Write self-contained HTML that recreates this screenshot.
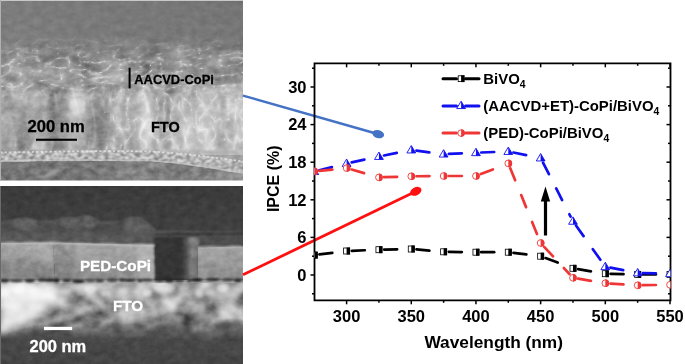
<!DOCTYPE html>
<html><head><meta charset="utf-8"><style>
html,body{margin:0;padding:0;background:#fff;width:685px;height:364px;overflow:hidden}
svg{display:block;will-change:transform;filter:blur(0.35px)}
text{font-family:"Liberation Sans",sans-serif}
</style></head><body>
<svg width="685" height="364" viewBox="0 0 685 364"><defs>
<clipPath id="clipTop"><rect x="0" y="0" width="243" height="180.5"/></clipPath>
<clipPath id="clipL"><rect x="0" y="0" width="105" height="181"/></clipPath><clipPath id="clipR"><rect x="105" y="0" width="138" height="181"/></clipPath>
<clipPath id="clipBot"><rect x="0" y="186" width="243" height="178"/></clipPath>
<linearGradient id="gTop" x1="0" y1="0" x2="0" y2="180" gradientUnits="userSpaceOnUse">
 <stop offset="0" stop-color="#7c7c7c"/>
 <stop offset="0.2" stop-color="#7d7d7d"/>
 <stop offset="0.25" stop-color="#868686"/>
 <stop offset="0.33" stop-color="#909090"/>
 <stop offset="0.42" stop-color="#9b9b9b"/>
 <stop offset="0.52" stop-color="#a2a2a2"/>
 <stop offset="0.85" stop-color="#a2a2a2"/>
 <stop offset="1" stop-color="#a0a0a0"/>
</linearGradient>
<linearGradient id="gTopH" x1="0" y1="0" x2="243" y2="0" gradientUnits="userSpaceOnUse">
 <stop offset="0" stop-color="#fff" stop-opacity="0"/>
 <stop offset="0.42" stop-color="#fff" stop-opacity="0.03"/>
 <stop offset="0.55" stop-color="#fff" stop-opacity="0.19"/>
 <stop offset="1" stop-color="#fff" stop-opacity="0.25"/>
</linearGradient>
<linearGradient id="gTopHv" x1="0" y1="78" x2="0" y2="155" gradientUnits="userSpaceOnUse">
 <stop offset="0" stop-color="#fff" stop-opacity="0"/>
 <stop offset="0.2" stop-color="#fff" stop-opacity="1"/>
 <stop offset="1" stop-color="#fff" stop-opacity="1"/>
</linearGradient>
<mask id="mTopH" maskUnits="userSpaceOnUse" x="0" y="0" width="243" height="181"><rect x="0" y="78" width="243" height="77" fill="url(#gTopHv)"/></mask>
<linearGradient id="gTopDark" x1="0" y1="0" x2="243" y2="0" gradientUnits="userSpaceOnUse">
 <stop offset="0" stop-color="#000" stop-opacity="0"/>
 <stop offset="1" stop-color="#000" stop-opacity="0.06"/>
</linearGradient>
<linearGradient id="gGlass" x1="0" y1="0" x2="243" y2="0" gradientUnits="userSpaceOnUse">
 <stop offset="0" stop-color="#727272"/>
 <stop offset="0.45" stop-color="#777"/>
 <stop offset="0.57" stop-color="#858585"/>
 <stop offset="0.64" stop-color="#7c7c7c"/>
 <stop offset="0.85" stop-color="#808080"/>
 <stop offset="1" stop-color="#969696"/>
</linearGradient>
<linearGradient id="mFlakeG" x1="0" y1="32" x2="0" y2="100" gradientUnits="userSpaceOnUse">
 <stop offset="0" stop-color="#fff" stop-opacity="0"/>
 <stop offset="0.15" stop-color="#fff" stop-opacity="0.25"/>
 <stop offset="0.45" stop-color="#fff" stop-opacity="1"/>
 <stop offset="0.8" stop-color="#fff" stop-opacity="1"/>
 <stop offset="1" stop-color="#fff" stop-opacity="0"/>
</linearGradient>
<mask id="mFlake" maskUnits="userSpaceOnUse" x="0" y="0" width="243" height="181"><rect x="0" y="32" width="243" height="68" fill="url(#mFlakeG)"/></mask>
<linearGradient id="mColG" x1="0" y1="80" x2="0" y2="152" gradientUnits="userSpaceOnUse">
 <stop offset="0" stop-color="#fff" stop-opacity="0"/>
 <stop offset="0.2" stop-color="#fff" stop-opacity="1"/>
 <stop offset="0.95" stop-color="#fff" stop-opacity="1"/>
 <stop offset="1" stop-color="#fff" stop-opacity="0"/>
</linearGradient>
<linearGradient id="mFineTG" x1="0" y1="0" x2="0" y2="181" gradientUnits="userSpaceOnUse">
 <stop offset="0" stop-color="#fff" stop-opacity="0.3"/>
 <stop offset="0.2" stop-color="#fff" stop-opacity="0.35"/>
 <stop offset="0.4" stop-color="#fff" stop-opacity="1"/>
 <stop offset="1" stop-color="#fff" stop-opacity="1"/>
</linearGradient>
<mask id="mFineT" maskUnits="userSpaceOnUse" x="0" y="0" width="243" height="181"><rect x="0" y="0" width="243" height="181" fill="url(#mFineTG)"/></mask>
<mask id="mCol" maskUnits="userSpaceOnUse" x="0" y="0" width="243" height="181"><rect x="0" y="80" width="243" height="72" fill="url(#mColG)"/></mask>

<linearGradient id="gBot" x1="0" y1="186" x2="0" y2="364" gradientUnits="userSpaceOnUse">
 <stop offset="0" stop-color="#3a3a3a"/>
 <stop offset="0.2" stop-color="#3f3f3f"/>
 <stop offset="1" stop-color="#3f3f3f"/>
</linearGradient>
<linearGradient id="gOver" x1="0" y1="218" x2="0" y2="245" gradientUnits="userSpaceOnUse">
 <stop offset="0" stop-color="#555"/>
 <stop offset="0.5" stop-color="#4a4a4a"/>
 <stop offset="1" stop-color="#505050"/>
</linearGradient>
<linearGradient id="gSlab" x1="0" y1="243" x2="0" y2="281" gradientUnits="userSpaceOnUse">
 <stop offset="0" stop-color="#a4a4a4"/>
 <stop offset="0.5" stop-color="#9a9a9a"/>
 <stop offset="1" stop-color="#8a8a8a"/>
</linearGradient>
<linearGradient id="gGap" x1="155" y1="0" x2="199" y2="0" gradientUnits="userSpaceOnUse">
 <stop offset="0" stop-color="#363636"/>
 <stop offset="0.6" stop-color="#333"/>
 <stop offset="0.74" stop-color="#5a5a5a"/>
 <stop offset="0.84" stop-color="#808080"/>
 <stop offset="1" stop-color="#767676"/>
</linearGradient>
<linearGradient id="gFTO" x1="0" y1="283" x2="0" y2="364" gradientUnits="userSpaceOnUse">
 <stop offset="0" stop-color="#b0b0b0"/>
 <stop offset="0.21" stop-color="#a2a2a2"/>
 <stop offset="0.395" stop-color="#8e8e8e"/>
 <stop offset="0.52" stop-color="#767676"/>
 <stop offset="0.617" stop-color="#5a5a5a"/>
 <stop offset="0.70" stop-color="#484848"/>
 <stop offset="1" stop-color="#444"/>
</linearGradient>
<linearGradient id="gFTOb" x1="60" y1="290" x2="20" y2="325" gradientUnits="userSpaceOnUse">
 <stop offset="0" stop-color="#fff" stop-opacity="0"/>
 <stop offset="0.25" stop-color="#fff" stop-opacity="0.75"/>
 <stop offset="1" stop-color="#fff" stop-opacity="0.8"/>
</linearGradient>
<linearGradient id="mGrainG" x1="0" y1="280" x2="0" y2="342" gradientUnits="userSpaceOnUse">
 <stop offset="0" stop-color="#fff" stop-opacity="1"/>
 <stop offset="0.7" stop-color="#fff" stop-opacity="0.8"/>
 <stop offset="1" stop-color="#fff" stop-opacity="0"/>
</linearGradient>
<mask id="mGrain" maskUnits="userSpaceOnUse" x="0" y="186" width="243" height="178"><rect x="0" y="283" width="243" height="59" fill="url(#mGrainG)"/></mask>

<filter id="tFine" filterUnits="userSpaceOnUse" x="-80" y="-80" width="420" height="540" color-interpolation-filters="sRGB">
 <feTurbulence type="fractalNoise" baseFrequency="0.12 0.16" numOctaves="3" seed="4"/>
 <feColorMatrix type="matrix" values="1 0 0 0 0  1 0 0 0 0  1 0 0 0 0  0 0 0 0 1"/><feGaussianBlur stdDeviation="0.5"/>
<feComposite in2="SourceAlpha" operator="in"/>
</filter>
<filter id="tFlake" filterUnits="userSpaceOnUse" x="-80" y="-80" width="420" height="540" color-interpolation-filters="sRGB">
 <feTurbulence type="turbulence" baseFrequency="0.05 0.1" numOctaves="3" seed="11"/>
 <feColorMatrix type="matrix" values="1 0 0 0 0  1 0 0 0 0  1 0 0 0 0  0 0 0 0 1"/><feComponentTransfer><feFuncR type="table" tableValues="0.9 0.64 0.52 0.47 0.45 0.44 0.43 0.42 0.41 0.4 0.4"/><feFuncG type="table" tableValues="0.9 0.64 0.52 0.47 0.45 0.44 0.43 0.42 0.41 0.4 0.4"/><feFuncB type="table" tableValues="0.9 0.64 0.52 0.47 0.45 0.44 0.43 0.42 0.41 0.4 0.4"/></feComponentTransfer><feGaussianBlur stdDeviation="0.75"/>
<feComposite in2="SourceAlpha" operator="in"/>
</filter>
<filter id="tCol" filterUnits="userSpaceOnUse" x="-80" y="-80" width="420" height="540" color-interpolation-filters="sRGB">
 <feTurbulence type="turbulence" baseFrequency="0.055 0.02" numOctaves="2" seed="5"/>
 <feColorMatrix type="matrix" values="1 0 0 0 0  1 0 0 0 0  1 0 0 0 0  0 0 0 0 1"/><feComponentTransfer><feFuncR type="table" tableValues="0.85 0.62 0.52 0.48 0.46 0.44 0.43 0.42 0.41 0.4 0.4"/><feFuncG type="table" tableValues="0.85 0.62 0.52 0.48 0.46 0.44 0.43 0.42 0.41 0.4 0.4"/><feFuncB type="table" tableValues="0.85 0.62 0.52 0.48 0.46 0.44 0.43 0.42 0.41 0.4 0.4"/></feComponentTransfer><feGaussianBlur stdDeviation="0.55"/>
<feComposite in2="SourceAlpha" operator="in"/>
</filter>
<filter id="tCol2" filterUnits="userSpaceOnUse" x="-80" y="-80" width="420" height="540" color-interpolation-filters="sRGB">
 <feTurbulence type="turbulence" baseFrequency="0.07 0.05" numOctaves="2" seed="21"/>
 <feColorMatrix type="matrix" values="1 0 0 0 0  1 0 0 0 0  1 0 0 0 0  0 0 0 0 1"/><feComponentTransfer><feFuncR type="table" tableValues="0.9 0.64 0.52 0.47 0.45 0.44 0.43 0.42 0.41 0.4 0.4"/><feFuncG type="table" tableValues="0.9 0.64 0.52 0.47 0.45 0.44 0.43 0.42 0.41 0.4 0.4"/><feFuncB type="table" tableValues="0.9 0.64 0.52 0.47 0.45 0.44 0.43 0.42 0.41 0.4 0.4"/></feComponentTransfer><feGaussianBlur stdDeviation="0.5"/>
<feComposite in2="SourceAlpha" operator="in"/>
</filter>
<filter id="tColShade" filterUnits="userSpaceOnUse" x="-80" y="-80" width="420" height="540" color-interpolation-filters="sRGB">
 <feTurbulence type="fractalNoise" baseFrequency="0.045 0.009" numOctaves="2" seed="14"/>
 <feColorMatrix type="matrix" values="1.6 0 0 0 -0.3  1.6 0 0 0 -0.3  1.6 0 0 0 -0.3  0 0 0 0 1"/>
 <feGaussianBlur stdDeviation="0.6"/>
<feComposite in2="SourceAlpha" operator="in"/>
</filter>
<filter id="tFlakeShade" filterUnits="userSpaceOnUse" x="-80" y="-80" width="420" height="540" color-interpolation-filters="sRGB">
 <feTurbulence type="fractalNoise" baseFrequency="0.03 0.06" numOctaves="2" seed="17"/>
 <feColorMatrix type="matrix" values="1.5 0 0 0 -0.25  1.5 0 0 0 -0.25  1.5 0 0 0 -0.25  0 0 0 0 1"/>
<feComposite in2="SourceAlpha" operator="in"/>
</filter>
<filter id="tSpeck" filterUnits="userSpaceOnUse" x="-80" y="-80" width="420" height="540" color-interpolation-filters="sRGB">
 <feTurbulence type="fractalNoise" baseFrequency="0.22 0.3" numOctaves="1" seed="31"/>
 <feColorMatrix type="matrix" values="2.4 0 0 0 -0.7  2.4 0 0 0 -0.7  2.4 0 0 0 -0.7  0 0 0 0 1"/>
 <feGaussianBlur stdDeviation="0.4"/>
<feComposite in2="SourceAlpha" operator="in"/>
</filter>
<filter id="tGrain" filterUnits="userSpaceOnUse" x="-80" y="-80" width="420" height="540" color-interpolation-filters="sRGB">
 <feTurbulence type="fractalNoise" baseFrequency="0.05 0.065" numOctaves="2" seed="9"/>
 <feColorMatrix type="matrix" values="1.8 0 0 0 -0.4  1.8 0 0 0 -0.4  1.8 0 0 0 -0.4  0 0 0 0 1"/>
 <feGaussianBlur stdDeviation="0.8"/>
<feComposite in2="SourceAlpha" operator="in"/>
</filter>
<filter id="blur1" filterUnits="userSpaceOnUse" x="-80" y="-80" width="420" height="540" color-interpolation-filters="sRGB"><feGaussianBlur stdDeviation="0.8"/></filter>
<filter id="blur3" filterUnits="userSpaceOnUse" x="-80" y="-80" width="420" height="540" color-interpolation-filters="sRGB"><feGaussianBlur stdDeviation="3"/></filter>
<filter id="blur2" filterUnits="userSpaceOnUse" x="-80" y="-80" width="420" height="540" color-interpolation-filters="sRGB"><feGaussianBlur stdDeviation="1.5"/></filter>
<clipPath id="clipPlot"><rect x="314.5" y="63.3" width="356" height="237"/></clipPath></defs>

<g clip-path="url(#clipTop)">
 <g style="isolation:isolate">
 <rect x="0" y="0" width="243" height="181" fill="url(#gTop)"/>
 <rect x="0" y="0" width="243" height="50" fill="url(#gTopDark)"/>
 <rect x="0" y="78" width="243" height="77" fill="url(#gTopH)" mask="url(#mTopH)"/>
 <path d="M0,152 C60,151 120,150 150,151 C185,153 215,157 243,161 L243,174 C215,169 185,164 150,161.5 C100,160.5 50,161 0,162 Z" fill="#b2b2b2"/>
 <path d="M0,162 C50,161 100,160.5 150,161.5 C185,164 215,169 243,174 L243,181 L0,181 Z" fill="url(#gGlass)"/>
 <path d="M70,100 L80,98 L86,103 L84,114 L74,115 L70,108 Z" fill="#c8c8c8" filter="url(#blur1)"/>
 <path d="M28,150 L38,141 L46,143 L44,150 Z" fill="#b8b8b8" filter="url(#blur1)"/>
 <rect x="0" y="0" width="243" height="181" filter="url(#tFine)" opacity="0.3" mask="url(#mFineT)" style="mix-blend-mode:overlay"/>
 <g mask="url(#mFlake)" opacity="0.95" style="mix-blend-mode:overlay"><rect x="-40" y="-40" width="330" height="260" filter="url(#tFlake)" transform="rotate(-8 121 60)"/></g>
 <rect x="0" y="0" width="243" height="181" filter="url(#tColShade)" opacity="0.4" mask="url(#mCol)" style="mix-blend-mode:overlay"/>
 <rect x="0" y="0" width="243" height="181" filter="url(#tFlakeShade)" opacity="0.3" mask="url(#mFlake)" style="mix-blend-mode:overlay"/>
 <g mask="url(#mCol)" style="mix-blend-mode:overlay"><g clip-path="url(#clipL)" opacity="0.35"><rect x="-40" y="-40" width="330" height="260" filter="url(#tCol)" transform="rotate(4 121 120)"/></g><g clip-path="url(#clipR)" opacity="0.75"><rect x="-40" y="-40" width="330" height="260" filter="url(#tCol)" transform="rotate(4 121 120)"/></g></g>
 <rect x="110" y="0" width="133" height="181" filter="url(#tCol2)" opacity="0.6" mask="url(#mCol)" style="mix-blend-mode:overlay"/>
 <path d="M0,152 C60,151 120,150 150,151 C185,153 215,157 243,161 L243,174 C215,169 185,164 150,161.5 C100,160.5 50,161 0,162 Z" filter="url(#tSpeck)" opacity="0.45" style="mix-blend-mode:overlay"/>
 <g filter="url(#blur1)"><path d="M2.0,102.4 C2.0,85.4 13.9,85.4 13.9,102.4" fill="none" stroke="#e0e0e0" stroke-width="1.3" opacity="0.50"/><path d="M15.7,100.8 C15.7,80.1 26.2,80.1 26.2,100.8" fill="none" stroke="#e0e0e0" stroke-width="1.3" opacity="0.41"/><path d="M25.6,105.4 C25.6,84.7 43.6,84.7 43.6,105.4" fill="none" stroke="#e0e0e0" stroke-width="1.3" opacity="0.47"/><path d="M45.4,107.3 C45.4,86.3 56.6,86.3 56.6,107.3" fill="none" stroke="#e0e0e0" stroke-width="1.3" opacity="0.48"/><path d="M59.0,100.7 C59.0,80.6 74.4,80.6 74.4,100.7" fill="none" stroke="#e0e0e0" stroke-width="1.3" opacity="0.50"/><path d="M74.2,106.4 C74.2,88.7 84.5,88.7 84.5,106.4" fill="none" stroke="#e0e0e0" stroke-width="1.3" opacity="0.53"/><path d="M87.7,106.4 C87.7,89.2 103.5,89.2 103.5,106.4" fill="none" stroke="#e0e0e0" stroke-width="1.3" opacity="0.55"/><path d="M104.1,103.6 C104.1,88.8 121.6,88.8 121.6,103.6" fill="none" stroke="#e0e0e0" stroke-width="1.3" opacity="0.38"/><path d="M120.9,103.4 C120.9,84.4 138.6,84.4 138.6,103.4" fill="none" stroke="#e0e0e0" stroke-width="1.3" opacity="0.43"/><path d="M139.7,102.2 C139.7,83.5 152.8,83.5 152.8,102.2" fill="none" stroke="#e0e0e0" stroke-width="1.3" opacity="0.50"/><path d="M156.2,110.1 C156.2,89.3 171.6,89.3 171.6,110.1" fill="none" stroke="#e0e0e0" stroke-width="1.3" opacity="0.60"/><path d="M173.7,110.3 C173.7,88.6 185.0,88.6 185.0,110.3" fill="none" stroke="#e0e0e0" stroke-width="1.3" opacity="0.58"/><path d="M186.4,102.8 C186.4,82.1 202.1,82.1 202.1,102.8" fill="none" stroke="#e0e0e0" stroke-width="1.3" opacity="0.49"/><path d="M201.8,110.5 C201.8,88.5 212.3,88.5 212.3,110.5" fill="none" stroke="#e0e0e0" stroke-width="1.3" opacity="0.37"/><path d="M215.1,97.9 C215.1,81.5 228.4,81.5 228.4,97.9" fill="none" stroke="#e0e0e0" stroke-width="1.3" opacity="0.54"/><path d="M231.6,100.5 C231.6,86.1 242.0,86.1 242.0,100.5" fill="none" stroke="#e0e0e0" stroke-width="1.3" opacity="0.53"/></g>
  </g>
 <path d="M0,152.5 C60,151.5 120,150.5 150,151.5 C185,153.5 215,157.5 243,161.5" fill="none" stroke="#e4e4e4" stroke-width="1.8" opacity="0.75" stroke-dasharray="2.5 2"/>
 <path d="M0,161 C50,160 100,159.5 150,160.5 C185,163 215,168 243,173" fill="none" stroke="#c8c8c8" stroke-width="1.4" opacity="0.6"/>
 <path d="M40,178 L52,170 L60,168 L58,172 L48,178 Z" fill="#9a9a9a" filter="url(#blur1)"/>
 <rect x="0" y="0" width="243" height="1" fill="#c8c8c8"/>
 <rect x="0" y="0" width="1" height="181" fill="#b0b0b0"/>
</g>

<g clip-path="url(#clipBot)">
 <g style="isolation:isolate">
 <rect x="0" y="186" width="243" height="178" fill="url(#gBot)"/>
 <path d="M0,223 C5,222 10,221 15,220 C22,218 30,218 36,221 C42,222 50,222 58,220 C64,218 70,217 76,219 C80,218 84,215 88,216 C92,217 95,220 100,222 C108,223 116,222 122,221 C127,219 132,217 138,218 C144,219 148,222 151,226 L155,231 L200,232 L243,232 L243,248 L0,248 Z" fill="#4d4d4d" filter="url(#blur1)"/>
 <path d="M14,221 C20,219 30,219 36,222 C40,226 38,230 30,231 C20,231 12,228 14,221 Z" fill="#626262" filter="url(#blur2)"/>
 <path d="M60,220 C68,218 76,218 82,220 C86,224 84,229 76,230 C66,230 58,226 60,220 Z" fill="#5e5e5e" filter="url(#blur2)"/>
 <path d="M84,218 L88,216 L93,219 L96,226 L88,228 L82,224 Z" fill="#646464" filter="url(#blur1)"/>
 <path d="M126,221 C130,218 138,217 144,220 C150,224 152,232 150,240 L130,241 C124,236 122,226 126,221 Z" fill="#5c5c5c" filter="url(#blur2)"/>
 <path d="M0,233 L20,231 L45,233 L70,231 L100,234 L125,232 L150,236 L152,243 L0,243 Z" fill="#5a5a5a" opacity="0.8" filter="url(#blur2)"/>
 <path d="M0,223 C5,222 10,221 15,220 C22,218 30,218 36,221 C42,222 50,222 58,220 C64,218 70,217 76,219 C80,218 84,215 88,216 C92,217 95,220 100,222 C108,223 116,222 122,221 C127,219 132,217 138,218 C144,219 148,222 151,226 L155,231 L200,232 L243,232" fill="none" stroke="#707070" stroke-width="1.2" opacity="0.7" filter="url(#blur1)"/>
 <path d="M155,234.5 L243,233.5" stroke="#2c2c2c" stroke-width="1.5" filter="url(#blur1)"/>
 <path d="M0,243 L53,242.5 L55,280 L0,280 Z" fill="url(#gSlab)"/>
 <path d="M53,242.5 L155,245 L156,280 L55,280 Z" fill="url(#gSlab)"/>
 <path d="M30,244 L53,243 L54,262 L40,258 Z" fill="#b4b4b4" opacity="0.45" filter="url(#blur2)"/>
 <path d="M0,262 L20,258 L40,262 L54,270 L54,279 L0,278 Z" fill="#707070" opacity="0.35" filter="url(#blur2)"/>
 <path d="M53,243 L78,243.6 L72,279.5 L55,279 Z" fill="#000" opacity="0.1" filter="url(#blur2)"/>
 <path d="M14,262 L26,251 L34,246" fill="none" stroke="#c4c4c4" stroke-width="1" opacity="0.6" filter="url(#blur1)"/>
 <path d="M22,270 L34,258 L42,250" fill="none" stroke="#bdbdbd" stroke-width="1" opacity="0.5" filter="url(#blur1)"/>
 <path d="M136,245 L155,245 L156,281 L140,281 Z" fill="#c0c0c0" opacity="0.55" filter="url(#blur2)"/>
 <path d="M60,246 L100,246 L80,262 Z" fill="#b0b0b0" opacity="0.3" filter="url(#blur2)"/>
 <path d="M154,237 L199,237 L199,283 L155,283 Z" fill="url(#gGap)" filter="url(#blur1)"/>
 <path d="M198,247.5 L243,246.5 L243,280 L198,280 Z" fill="url(#gSlab)"/>
 <path d="M0,280 L243,280 L243,364 L0,364 Z" fill="url(#gFTO)"/>
 <path d="M0,283 L88,283 L62,298 L30,322 L0,334 Z" fill="url(#gFTOb)" filter="url(#blur3)"/>
 <path d="M0,283 L90,283 L60,295 L0,300 Z" fill="#fff" opacity="0.35" filter="url(#blur3)"/>
 <path d="M118,284 L150,284 L148,300 L120,298 Z" fill="#fff" opacity="0.35" filter="url(#blur3)"/>
 <g filter="url(#blur2)"><ellipse cx="4.0" cy="292.8" rx="5.4" ry="4.0" fill="#fff" opacity="0.53"/><ellipse cx="18.7" cy="290.8" rx="6.3" ry="2.6" fill="#fff" opacity="0.53"/><ellipse cx="34.8" cy="290.8" rx="6.2" ry="2.7" fill="#fff" opacity="0.32"/><ellipse cx="50.4" cy="289.3" rx="5.2" ry="2.5" fill="#fff" opacity="0.33"/><ellipse cx="65.5" cy="292.8" rx="5.8" ry="2.8" fill="#fff" opacity="0.29"/><ellipse cx="80.6" cy="293.2" rx="3.9" ry="2.5" fill="#fff" opacity="0.31"/><ellipse cx="90.2" cy="289.7" rx="6.4" ry="4.2" fill="#fff" opacity="0.54"/><ellipse cx="106.3" cy="293.6" rx="5.5" ry="2.9" fill="#fff" opacity="0.46"/><ellipse cx="122.2" cy="290.2" rx="6.2" ry="3.1" fill="#fff" opacity="0.30"/><ellipse cx="136.1" cy="291.6" rx="3.7" ry="3.1" fill="#fff" opacity="0.25"/><ellipse cx="147.2" cy="292.9" rx="4.5" ry="3.1" fill="#fff" opacity="0.39"/><ellipse cx="158.5" cy="288.3" rx="4.9" ry="3.9" fill="#fff" opacity="0.54"/><ellipse cx="169.5" cy="288.1" rx="5.7" ry="4.2" fill="#fff" opacity="0.49"/><ellipse cx="183.5" cy="288.3" rx="5.2" ry="2.5" fill="#fff" opacity="0.30"/><ellipse cx="198.8" cy="293.6" rx="4.1" ry="4.0" fill="#fff" opacity="0.53"/><ellipse cx="209.3" cy="292.7" rx="4.6" ry="3.5" fill="#fff" opacity="0.28"/><ellipse cx="222.4" cy="288.2" rx="5.9" ry="4.2" fill="#fff" opacity="0.53"/><ellipse cx="235.6" cy="293.5" rx="4.5" ry="3.7" fill="#fff" opacity="0.35"/><ellipse cx="8.0" cy="305.2" rx="5.6" ry="3.6" fill="#fff" opacity="0.14"/><ellipse cx="22.7" cy="312.0" rx="4.4" ry="4.4" fill="#fff" opacity="0.13"/><ellipse cx="34.9" cy="306.1" rx="7.0" ry="4.1" fill="#fff" opacity="0.15"/><ellipse cx="55.4" cy="306.2" rx="6.5" ry="3.9" fill="#fff" opacity="0.11"/><ellipse cx="76.9" cy="310.4" rx="4.1" ry="4.0" fill="#fff" opacity="0.13"/><ellipse cx="92.4" cy="309.9" rx="6.8" ry="4.3" fill="#fff" opacity="0.12"/><ellipse cx="111.8" cy="304.9" rx="4.4" ry="4.7" fill="#fff" opacity="0.19"/><ellipse cx="129.6" cy="306.5" rx="6.6" ry="5.0" fill="#fff" opacity="0.20"/><ellipse cx="150.1" cy="306.0" rx="5.4" ry="3.6" fill="#fff" opacity="0.13"/><ellipse cx="166.3" cy="308.3" rx="7.0" ry="4.9" fill="#fff" opacity="0.20"/><ellipse cx="185.2" cy="309.8" rx="4.3" ry="3.5" fill="#fff" opacity="0.27"/><ellipse cx="198.9" cy="308.9" rx="6.4" ry="4.5" fill="#fff" opacity="0.23"/><ellipse cx="219.2" cy="304.8" rx="5.1" ry="4.4" fill="#fff" opacity="0.20"/><ellipse cx="237.0" cy="311.5" rx="6.1" ry="3.6" fill="#fff" opacity="0.23"/></g>
 <rect x="0" y="186" width="243" height="178" filter="url(#tFine)" opacity="0.2" style="mix-blend-mode:overlay"/>
 <rect x="0" y="186" width="243" height="178" filter="url(#tGrain)" opacity="0.75" mask="url(#mGrain)" style="mix-blend-mode:overlay"/>
 </g>
 <path d="M0,243.2 L10,242.6 L20,243.4 L30,242.5 L40,243.3 L53,242.5 L65,243.6 L80,243.4 L95,244.4 L110,244 L125,245 L140,244.6 L155,245.2" fill="none" stroke="#c8c8c8" stroke-width="1.5" filter="url(#blur1)"/>
 <path d="M198,247.5 L210,246.8 L222,247.4 L232,246.5 L243,246.8" fill="none" stroke="#c0c0c0" stroke-width="1.5" filter="url(#blur1)"/>
 <g filter="url(#blur1)"><rect x="0" y="279.4" width="243" height="1.2" fill="#333" opacity="0.6"/><ellipse cx="4.6" cy="280.6" rx="4.6" ry="1.9" fill="#262626"/><ellipse cx="16.2" cy="280.6" rx="7.0" ry="1.7" fill="#3a3a3a"/><ellipse cx="29.8" cy="280.6" rx="5.2" ry="1.8" fill="#262626"/><ellipse cx="42.1" cy="279.9" rx="4.2" ry="1.6" fill="#262626"/><ellipse cx="50.2" cy="280.2" rx="5.6" ry="1.6" fill="#1e1e1e"/><ellipse cx="56.6" cy="280.4" rx="2.8" ry="2.2" fill="#1e1e1e"/><ellipse cx="66.8" cy="280.6" rx="4.4" ry="1.7" fill="#262626"/><ellipse cx="78.3" cy="281.2" rx="6.5" ry="1.8" fill="#1e1e1e"/><ellipse cx="90.4" cy="280.5" rx="4.8" ry="1.3" fill="#3a3a3a"/><ellipse cx="99.8" cy="280.7" rx="4.2" ry="1.3" fill="#262626"/><ellipse cx="112.4" cy="280.1" rx="5.5" ry="1.6" fill="#3a3a3a"/><ellipse cx="122.2" cy="280.1" rx="3.0" ry="1.5" fill="#262626"/><ellipse cx="129.6" cy="280.4" rx="6.2" ry="1.7" fill="#262626"/><ellipse cx="139.9" cy="280.5" rx="2.7" ry="1.5" fill="#262626"/><ellipse cx="147.1" cy="280.0" rx="5.6" ry="1.3" fill="#2e2e2e"/><ellipse cx="159.5" cy="280.1" rx="5.8" ry="1.8" fill="#2e2e2e"/><ellipse cx="169.3" cy="280.3" rx="4.6" ry="2.2" fill="#262626"/><ellipse cx="179.2" cy="280.8" rx="5.0" ry="1.4" fill="#262626"/><ellipse cx="189.3" cy="280.8" rx="2.5" ry="1.5" fill="#2e2e2e"/><ellipse cx="196.8" cy="279.9" rx="6.1" ry="1.8" fill="#1e1e1e"/><ellipse cx="212.8" cy="279.5" rx="7.0" ry="1.8" fill="#2e2e2e"/><ellipse cx="227.7" cy="279.7" rx="5.5" ry="1.5" fill="#3a3a3a"/><ellipse cx="237.8" cy="280.3" rx="4.1" ry="1.9" fill="#262626"/><ellipse cx="247.4" cy="280.1" rx="5.3" ry="1.3" fill="#3a3a3a"/></g>
 <rect x="0" y="186" width="1" height="178" fill="#6a6a6a"/>
</g>
<rect x="128.6" y="67.7" width="2" height="20.7" fill="#000"/>
<text x="134.3" y="83.9" font-family="Liberation Sans, sans-serif" font-weight="bold" font-size="13" textLength="79.6" lengthAdjust="spacingAndGlyphs" fill="#000" stroke="#000" stroke-width="0.3">AACVD-CoPi</text>
<text x="27.5" y="132.2" font-family="Liberation Sans, sans-serif" font-weight="bold" font-size="15.9" textLength="57.3" lengthAdjust="spacingAndGlyphs" fill="#000" stroke="#000" stroke-width="0.3">200 nm</text>
<rect x="36" y="138.7" width="41" height="2.1" fill="#000"/>
<text x="151" y="132.2" font-family="Liberation Sans, sans-serif" font-weight="bold" font-size="14.2" textLength="28.7" lengthAdjust="spacingAndGlyphs" fill="#000" stroke="#000" stroke-width="0.3">FTO</text>
<text x="79.9" y="271.2" font-family="Liberation Sans, sans-serif" font-weight="bold" font-size="15" textLength="71.2" lengthAdjust="spacingAndGlyphs" fill="#fff" stroke="#fff" stroke-width="0.3">PED-CoPi</text>
<text x="112.9" y="311.2" font-family="Liberation Sans, sans-serif" font-weight="bold" font-size="15.3" textLength="30.2" lengthAdjust="spacingAndGlyphs" fill="#fff" stroke="#fff" stroke-width="0.3">FTO</text>
<text x="29.5" y="351.5" font-family="Liberation Sans, sans-serif" font-weight="bold" font-size="16" textLength="56.7" lengthAdjust="spacingAndGlyphs" fill="#fff" stroke="#fff" stroke-width="0.3">200 nm</text>
<rect x="44" y="326.8" width="28.2" height="3.3" fill="#fff"/>
<line x1="243" y1="95.6" x2="376" y2="133.5" stroke="#4472c4" stroke-width="2.4"/>
<ellipse cx="378.2" cy="134.1" rx="6" ry="4" transform="rotate(16 378.2 134.1)" fill="#4472c4"/>
<line x1="243" y1="274.8" x2="413" y2="192.8" stroke="#ff1010" stroke-width="2.8"/>
<ellipse cx="415.8" cy="191.3" rx="6" ry="4" transform="rotate(-26 415.8 191.3)" fill="#ff1010"/>
<path d="M314.5,63.3 L670.5,63.3 L670.5,300.3 L314.5,300.3 Z" fill="none" stroke="#000" stroke-width="1.8"/>
<line x1="312.0" y1="293.80" x2="314.5" y2="293.80" stroke="#000" stroke-width="1.5"/>
<line x1="670.5" y1="293.80" x2="668.0" y2="293.80" stroke="#000" stroke-width="1.5"/>
<line x1="310.5" y1="275.00" x2="314.5" y2="275.00" stroke="#000" stroke-width="1.5"/>
<line x1="670.5" y1="275.00" x2="666.5" y2="275.00" stroke="#000" stroke-width="1.5"/>
<line x1="312.0" y1="256.20" x2="314.5" y2="256.20" stroke="#000" stroke-width="1.5"/>
<line x1="670.5" y1="256.20" x2="668.0" y2="256.20" stroke="#000" stroke-width="1.5"/>
<line x1="310.5" y1="237.40" x2="314.5" y2="237.40" stroke="#000" stroke-width="1.5"/>
<line x1="670.5" y1="237.40" x2="666.5" y2="237.40" stroke="#000" stroke-width="1.5"/>
<line x1="312.0" y1="218.60" x2="314.5" y2="218.60" stroke="#000" stroke-width="1.5"/>
<line x1="670.5" y1="218.60" x2="668.0" y2="218.60" stroke="#000" stroke-width="1.5"/>
<line x1="310.5" y1="199.80" x2="314.5" y2="199.80" stroke="#000" stroke-width="1.5"/>
<line x1="670.5" y1="199.80" x2="666.5" y2="199.80" stroke="#000" stroke-width="1.5"/>
<line x1="312.0" y1="181.00" x2="314.5" y2="181.00" stroke="#000" stroke-width="1.5"/>
<line x1="670.5" y1="181.00" x2="668.0" y2="181.00" stroke="#000" stroke-width="1.5"/>
<line x1="310.5" y1="162.19" x2="314.5" y2="162.19" stroke="#000" stroke-width="1.5"/>
<line x1="670.5" y1="162.19" x2="666.5" y2="162.19" stroke="#000" stroke-width="1.5"/>
<line x1="312.0" y1="143.39" x2="314.5" y2="143.39" stroke="#000" stroke-width="1.5"/>
<line x1="670.5" y1="143.39" x2="668.0" y2="143.39" stroke="#000" stroke-width="1.5"/>
<line x1="310.5" y1="124.59" x2="314.5" y2="124.59" stroke="#000" stroke-width="1.5"/>
<line x1="670.5" y1="124.59" x2="666.5" y2="124.59" stroke="#000" stroke-width="1.5"/>
<line x1="312.0" y1="105.79" x2="314.5" y2="105.79" stroke="#000" stroke-width="1.5"/>
<line x1="670.5" y1="105.79" x2="668.0" y2="105.79" stroke="#000" stroke-width="1.5"/>
<line x1="310.5" y1="86.99" x2="314.5" y2="86.99" stroke="#000" stroke-width="1.5"/>
<line x1="670.5" y1="86.99" x2="666.5" y2="86.99" stroke="#000" stroke-width="1.5"/>
<line x1="312.0" y1="68.19" x2="314.5" y2="68.19" stroke="#000" stroke-width="1.5"/>
<line x1="670.5" y1="68.19" x2="668.0" y2="68.19" stroke="#000" stroke-width="1.5"/>
<line x1="346.60" y1="300.3" x2="346.60" y2="304.3" stroke="#000" stroke-width="1.5"/>
<line x1="346.60" y1="63.3" x2="346.60" y2="67.3" stroke="#000" stroke-width="1.5"/>
<line x1="378.94" y1="300.3" x2="378.94" y2="302.8" stroke="#000" stroke-width="1.5"/>
<line x1="378.94" y1="63.3" x2="378.94" y2="65.8" stroke="#000" stroke-width="1.5"/>
<line x1="411.28" y1="300.3" x2="411.28" y2="304.3" stroke="#000" stroke-width="1.5"/>
<line x1="411.28" y1="63.3" x2="411.28" y2="67.3" stroke="#000" stroke-width="1.5"/>
<line x1="443.62" y1="300.3" x2="443.62" y2="302.8" stroke="#000" stroke-width="1.5"/>
<line x1="443.62" y1="63.3" x2="443.62" y2="65.8" stroke="#000" stroke-width="1.5"/>
<line x1="475.96" y1="300.3" x2="475.96" y2="304.3" stroke="#000" stroke-width="1.5"/>
<line x1="475.96" y1="63.3" x2="475.96" y2="67.3" stroke="#000" stroke-width="1.5"/>
<line x1="508.30" y1="300.3" x2="508.30" y2="302.8" stroke="#000" stroke-width="1.5"/>
<line x1="508.30" y1="63.3" x2="508.30" y2="65.8" stroke="#000" stroke-width="1.5"/>
<line x1="540.64" y1="300.3" x2="540.64" y2="304.3" stroke="#000" stroke-width="1.5"/>
<line x1="540.64" y1="63.3" x2="540.64" y2="67.3" stroke="#000" stroke-width="1.5"/>
<line x1="572.98" y1="300.3" x2="572.98" y2="302.8" stroke="#000" stroke-width="1.5"/>
<line x1="572.98" y1="63.3" x2="572.98" y2="65.8" stroke="#000" stroke-width="1.5"/>
<line x1="605.32" y1="300.3" x2="605.32" y2="304.3" stroke="#000" stroke-width="1.5"/>
<line x1="605.32" y1="63.3" x2="605.32" y2="67.3" stroke="#000" stroke-width="1.5"/>
<line x1="637.66" y1="300.3" x2="637.66" y2="302.8" stroke="#000" stroke-width="1.5"/>
<line x1="637.66" y1="63.3" x2="637.66" y2="65.8" stroke="#000" stroke-width="1.5"/>
<line x1="670.00" y1="300.3" x2="670.00" y2="304.3" stroke="#000" stroke-width="1.5"/>
<line x1="670.00" y1="63.3" x2="670.00" y2="67.3" stroke="#000" stroke-width="1.5"/>
<text x="306.5" y="280.90" text-anchor="end" font-family="Liberation Sans, sans-serif" font-weight="bold" font-size="16.5">0</text>
<text x="306.5" y="243.30" text-anchor="end" font-family="Liberation Sans, sans-serif" font-weight="bold" font-size="16.5">6</text>
<text x="306.5" y="205.70" text-anchor="end" font-family="Liberation Sans, sans-serif" font-weight="bold" font-size="16.5">12</text>
<text x="306.5" y="168.09" text-anchor="end" font-family="Liberation Sans, sans-serif" font-weight="bold" font-size="16.5">18</text>
<text x="306.5" y="130.49" text-anchor="end" font-family="Liberation Sans, sans-serif" font-weight="bold" font-size="16.5">24</text>
<text x="306.5" y="92.89" text-anchor="end" font-family="Liberation Sans, sans-serif" font-weight="bold" font-size="16.5">30</text>
<text x="346.60" y="322.2" text-anchor="middle" font-family="Liberation Sans, sans-serif" font-weight="bold" font-size="16.5">300</text>
<text x="411.28" y="322.2" text-anchor="middle" font-family="Liberation Sans, sans-serif" font-weight="bold" font-size="16.5">350</text>
<text x="475.96" y="322.2" text-anchor="middle" font-family="Liberation Sans, sans-serif" font-weight="bold" font-size="16.5">400</text>
<text x="540.64" y="322.2" text-anchor="middle" font-family="Liberation Sans, sans-serif" font-weight="bold" font-size="16.5">450</text>
<text x="605.32" y="322.2" text-anchor="middle" font-family="Liberation Sans, sans-serif" font-weight="bold" font-size="16.5">500</text>
<text x="670.00" y="322.2" text-anchor="middle" font-family="Liberation Sans, sans-serif" font-weight="bold" font-size="16.5">550</text>
<text x="493.7" y="347.9" text-anchor="middle" font-family="Liberation Sans, sans-serif" font-weight="bold" font-size="17.3">Wavelength (nm)</text>
<text transform="translate(278.7,178.75) rotate(-90)" text-anchor="middle" font-family="Liberation Sans, sans-serif" font-weight="bold" font-size="16">IPCE (%)</text>
<g clip-path="url(#clipPlot)">
<line x1="319.42" y1="254.45" x2="341.44" y2="251.65" stroke="#000" stroke-width="2.7" stroke-linecap="round" stroke-dasharray="13 16"/>
<line x1="351.80" y1="250.79" x2="373.74" y2="249.91" stroke="#000" stroke-width="2.7" stroke-linecap="round" stroke-dasharray="13 16"/>
<line x1="384.14" y1="249.59" x2="406.08" y2="249.11" stroke="#000" stroke-width="2.7" stroke-linecap="round" stroke-dasharray="13 16"/>
<line x1="416.46" y1="249.45" x2="438.44" y2="251.35" stroke="#000" stroke-width="2.7" stroke-linecap="round" stroke-dasharray="13 16"/>
<line x1="448.82" y1="251.86" x2="470.76" y2="252.14" stroke="#000" stroke-width="2.7" stroke-linecap="round" stroke-dasharray="13 16"/>
<line x1="481.16" y1="252.20" x2="503.10" y2="252.20" stroke="#000" stroke-width="2.7" stroke-linecap="round" stroke-dasharray="13 16"/>
<line x1="513.46" y1="252.84" x2="535.48" y2="255.56" stroke="#000" stroke-width="2.7" stroke-linecap="round" stroke-dasharray="13 16"/>
<line x1="545.51" y1="258.02" x2="568.11" y2="266.48" stroke="#000" stroke-width="2.7" stroke-linecap="round" stroke-dasharray="13 16"/>
<line x1="578.11" y1="269.16" x2="600.19" y2="272.84" stroke="#000" stroke-width="2.7" stroke-linecap="round" stroke-dasharray="13 16"/>
<line x1="610.52" y1="273.83" x2="632.46" y2="274.37" stroke="#000" stroke-width="2.7" stroke-linecap="round" stroke-dasharray="13 16"/>
<line x1="642.86" y1="274.50" x2="664.80" y2="274.50" stroke="#000" stroke-width="2.7" stroke-linecap="round" stroke-dasharray="13 16"/>
<line x1="319.30" y1="170.34" x2="341.56" y2="164.76" stroke="#1010f0" stroke-width="2.7" stroke-linecap="round" stroke-dasharray="13 16"/>
<line x1="351.68" y1="162.40" x2="373.86" y2="157.60" stroke="#1010f0" stroke-width="2.7" stroke-linecap="round" stroke-dasharray="13 16"/>
<line x1="384.04" y1="155.48" x2="406.18" y2="151.02" stroke="#1010f0" stroke-width="2.7" stroke-linecap="round" stroke-dasharray="13 16"/>
<line x1="416.44" y1="150.65" x2="438.46" y2="153.45" stroke="#1010f0" stroke-width="2.7" stroke-linecap="round" stroke-dasharray="13 16"/>
<line x1="448.82" y1="153.88" x2="470.76" y2="152.92" stroke="#1010f0" stroke-width="2.7" stroke-linecap="round" stroke-dasharray="13 16"/>
<line x1="481.16" y1="152.51" x2="503.10" y2="151.69" stroke="#1010f0" stroke-width="2.7" stroke-linecap="round" stroke-dasharray="13 16"/>
<line x1="513.40" y1="152.52" x2="535.54" y2="156.98" stroke="#1010f0" stroke-width="2.7" stroke-linecap="round" stroke-dasharray="13 16"/>
<line x1="543.01" y1="162.63" x2="570.61" y2="216.67" stroke="#1010f0" stroke-width="2.7" stroke-linecap="round" stroke-dasharray="13 16"/>
<line x1="576.00" y1="225.54" x2="602.30" y2="262.46" stroke="#1010f0" stroke-width="2.7" stroke-linecap="round" stroke-dasharray="13 16"/>
<line x1="610.43" y1="267.68" x2="632.55" y2="271.92" stroke="#1010f0" stroke-width="2.7" stroke-linecap="round" stroke-dasharray="13 16"/>
<line x1="642.86" y1="273.03" x2="664.80" y2="273.57" stroke="#1010f0" stroke-width="2.7" stroke-linecap="round" stroke-dasharray="13 16"/>
<line x1="319.43" y1="170.87" x2="341.43" y2="168.63" stroke="#ef3636" stroke-width="2.7" stroke-linecap="round" stroke-dasharray="13 16"/>
<line x1="351.60" y1="169.54" x2="373.94" y2="175.96" stroke="#ef3636" stroke-width="2.7" stroke-linecap="round" stroke-dasharray="13 16"/>
<line x1="384.14" y1="177.22" x2="406.08" y2="176.48" stroke="#ef3636" stroke-width="2.7" stroke-linecap="round" stroke-dasharray="13 16"/>
<line x1="416.48" y1="176.25" x2="438.42" y2="176.05" stroke="#ef3636" stroke-width="2.7" stroke-linecap="round" stroke-dasharray="13 16"/>
<line x1="448.82" y1="176.00" x2="470.76" y2="176.00" stroke="#ef3636" stroke-width="2.7" stroke-linecap="round" stroke-dasharray="13 16"/>
<line x1="480.81" y1="174.11" x2="503.45" y2="165.29" stroke="#ef3636" stroke-width="2.7" stroke-linecap="round" stroke-dasharray="13 16"/>
<line x1="510.26" y1="168.22" x2="538.68" y2="238.18" stroke="#ef3636" stroke-width="2.7" stroke-linecap="round" stroke-dasharray="13 16"/>
<line x1="544.18" y1="246.81" x2="569.44" y2="273.99" stroke="#ef3636" stroke-width="2.7" stroke-linecap="round" stroke-dasharray="13 16"/>
<line x1="578.11" y1="278.66" x2="600.19" y2="282.34" stroke="#ef3636" stroke-width="2.7" stroke-linecap="round" stroke-dasharray="13 16"/>
<line x1="610.51" y1="283.54" x2="632.47" y2="284.96" stroke="#ef3636" stroke-width="2.7" stroke-linecap="round" stroke-dasharray="13 16"/>
<line x1="642.86" y1="285.22" x2="664.80" y2="284.88" stroke="#ef3636" stroke-width="2.7" stroke-linecap="round" stroke-dasharray="13 16"/>
<rect x="311.26" y="252.10" width="6" height="6" fill="#fff" stroke="#000" stroke-width="0.8"/><rect x="314.26" y="251.60" width="3.50" height="7" fill="#000"/>
<rect x="343.60" y="248.00" width="6" height="6" fill="#fff" stroke="#000" stroke-width="0.8"/><rect x="346.60" y="247.50" width="3.50" height="7" fill="#000"/>
<rect x="375.94" y="246.70" width="6" height="6" fill="#fff" stroke="#000" stroke-width="0.8"/><rect x="378.94" y="246.20" width="3.50" height="7" fill="#000"/>
<rect x="408.28" y="246.00" width="6" height="6" fill="#fff" stroke="#000" stroke-width="0.8"/><rect x="411.28" y="245.50" width="3.50" height="7" fill="#000"/>
<rect x="440.62" y="248.80" width="6" height="6" fill="#fff" stroke="#000" stroke-width="0.8"/><rect x="443.62" y="248.30" width="3.50" height="7" fill="#000"/>
<rect x="472.96" y="249.20" width="6" height="6" fill="#fff" stroke="#000" stroke-width="0.8"/><rect x="475.96" y="248.70" width="3.50" height="7" fill="#000"/>
<rect x="505.30" y="249.20" width="6" height="6" fill="#fff" stroke="#000" stroke-width="0.8"/><rect x="508.30" y="248.70" width="3.50" height="7" fill="#000"/>
<rect x="537.64" y="253.20" width="6" height="6" fill="#fff" stroke="#000" stroke-width="0.8"/><rect x="540.64" y="252.70" width="3.50" height="7" fill="#000"/>
<rect x="569.98" y="265.30" width="6" height="6" fill="#fff" stroke="#000" stroke-width="0.8"/><rect x="572.98" y="264.80" width="3.50" height="7" fill="#000"/>
<rect x="602.32" y="270.70" width="6" height="6" fill="#fff" stroke="#000" stroke-width="0.8"/><rect x="605.32" y="270.20" width="3.50" height="7" fill="#000"/>
<rect x="634.66" y="271.50" width="6" height="6" fill="#fff" stroke="#000" stroke-width="0.8"/><rect x="637.66" y="271.00" width="3.50" height="7" fill="#000"/>
<rect x="667.00" y="271.50" width="6" height="6" fill="#fff" stroke="#000" stroke-width="0.8"/><rect x="670.00" y="271.00" width="3.50" height="7" fill="#000"/>
<path d="M314.26,167.16 L318.66,174.56 L309.86,174.56 Z" fill="#fff" stroke="#1010f0" stroke-width="0.9" stroke-linejoin="miter"/><path d="M314.26,167.16 L318.66,174.56 L314.26,174.56 Z" fill="#1010f0"/>
<path d="M346.60,159.06 L351.00,166.46 L342.20,166.46 Z" fill="#fff" stroke="#1010f0" stroke-width="0.9" stroke-linejoin="miter"/><path d="M346.60,159.06 L351.00,166.46 L346.60,166.46 Z" fill="#1010f0"/>
<path d="M378.94,152.06 L383.34,159.46 L374.54,159.46 Z" fill="#fff" stroke="#1010f0" stroke-width="0.9" stroke-linejoin="miter"/><path d="M378.94,152.06 L383.34,159.46 L378.94,159.46 Z" fill="#1010f0"/>
<path d="M411.28,145.56 L415.68,152.96 L406.88,152.96 Z" fill="#fff" stroke="#1010f0" stroke-width="0.9" stroke-linejoin="miter"/><path d="M411.28,145.56 L415.68,152.96 L411.28,152.96 Z" fill="#1010f0"/>
<path d="M443.62,149.66 L448.02,157.06 L439.22,157.06 Z" fill="#fff" stroke="#1010f0" stroke-width="0.9" stroke-linejoin="miter"/><path d="M443.62,149.66 L448.02,157.06 L443.62,157.06 Z" fill="#1010f0"/>
<path d="M475.96,148.26 L480.36,155.66 L471.56,155.66 Z" fill="#fff" stroke="#1010f0" stroke-width="0.9" stroke-linejoin="miter"/><path d="M475.96,148.26 L480.36,155.66 L475.96,155.66 Z" fill="#1010f0"/>
<path d="M508.30,147.06 L512.70,154.46 L503.90,154.46 Z" fill="#fff" stroke="#1010f0" stroke-width="0.9" stroke-linejoin="miter"/><path d="M508.30,147.06 L512.70,154.46 L508.30,154.46 Z" fill="#1010f0"/>
<path d="M540.64,153.56 L545.04,160.96 L536.24,160.96 Z" fill="#fff" stroke="#1010f0" stroke-width="0.9" stroke-linejoin="miter"/><path d="M540.64,153.56 L545.04,160.96 L540.64,160.96 Z" fill="#1010f0"/>
<path d="M572.98,216.86 L577.38,224.26 L568.58,224.26 Z" fill="#fff" stroke="#1010f0" stroke-width="0.9" stroke-linejoin="miter"/><path d="M572.98,216.86 L577.38,224.26 L572.98,224.26 Z" fill="#1010f0"/>
<path d="M605.32,262.26 L609.72,269.66 L600.92,269.66 Z" fill="#fff" stroke="#1010f0" stroke-width="0.9" stroke-linejoin="miter"/><path d="M605.32,262.26 L609.72,269.66 L605.32,269.66 Z" fill="#1010f0"/>
<path d="M637.66,268.46 L642.06,275.86 L633.26,275.86 Z" fill="#fff" stroke="#1010f0" stroke-width="0.9" stroke-linejoin="miter"/><path d="M637.66,268.46 L642.06,275.86 L637.66,275.86 Z" fill="#1010f0"/>
<path d="M670.00,269.26 L674.40,276.66 L665.60,276.66 Z" fill="#fff" stroke="#1010f0" stroke-width="0.9" stroke-linejoin="miter"/><path d="M670.00,269.26 L674.40,276.66 L670.00,276.66 Z" fill="#1010f0"/>
<circle cx="314.26" cy="171.40" r="3.35" fill="#fff" stroke="#ef3636" stroke-width="0.9"/><path d="M314.26,167.55 A3.85,3.85 0 0 1 314.26,175.25 Z" fill="#ef3636"/>
<circle cx="346.60" cy="168.10" r="3.35" fill="#fff" stroke="#ef3636" stroke-width="0.9"/><path d="M346.60,164.25 A3.85,3.85 0 0 1 346.60,171.95 Z" fill="#ef3636"/>
<circle cx="378.94" cy="177.40" r="3.35" fill="#fff" stroke="#ef3636" stroke-width="0.9"/><path d="M378.94,173.55 A3.85,3.85 0 0 1 378.94,181.25 Z" fill="#ef3636"/>
<circle cx="411.28" cy="176.30" r="3.35" fill="#fff" stroke="#ef3636" stroke-width="0.9"/><path d="M411.28,172.45 A3.85,3.85 0 0 1 411.28,180.15 Z" fill="#ef3636"/>
<circle cx="443.62" cy="176.00" r="3.35" fill="#fff" stroke="#ef3636" stroke-width="0.9"/><path d="M443.62,172.15 A3.85,3.85 0 0 1 443.62,179.85 Z" fill="#ef3636"/>
<circle cx="475.96" cy="176.00" r="3.35" fill="#fff" stroke="#ef3636" stroke-width="0.9"/><path d="M475.96,172.15 A3.85,3.85 0 0 1 475.96,179.85 Z" fill="#ef3636"/>
<circle cx="508.30" cy="163.40" r="3.35" fill="#fff" stroke="#ef3636" stroke-width="0.9"/><path d="M508.30,159.55 A3.85,3.85 0 0 1 508.30,167.25 Z" fill="#ef3636"/>
<circle cx="540.64" cy="243.00" r="3.35" fill="#fff" stroke="#ef3636" stroke-width="0.9"/><path d="M540.64,239.15 A3.85,3.85 0 0 1 540.64,246.85 Z" fill="#ef3636"/>
<circle cx="572.98" cy="277.80" r="3.35" fill="#fff" stroke="#ef3636" stroke-width="0.9"/><path d="M572.98,273.95 A3.85,3.85 0 0 1 572.98,281.65 Z" fill="#ef3636"/>
<circle cx="605.32" cy="283.20" r="3.35" fill="#fff" stroke="#ef3636" stroke-width="0.9"/><path d="M605.32,279.35 A3.85,3.85 0 0 1 605.32,287.05 Z" fill="#ef3636"/>
<circle cx="637.66" cy="285.30" r="3.35" fill="#fff" stroke="#ef3636" stroke-width="0.9"/><path d="M637.66,281.45 A3.85,3.85 0 0 1 637.66,289.15 Z" fill="#ef3636"/>
<circle cx="670.00" cy="284.80" r="3.35" fill="#fff" stroke="#ef3636" stroke-width="0.9"/><path d="M670.00,280.95 A3.85,3.85 0 0 1 670.00,288.65 Z" fill="#ef3636"/>
</g>
<line x1="545.5" y1="200" x2="545.5" y2="235.5" stroke="#000" stroke-width="3.2"/>
<path d="M545.5,186.5 L550.2,201.5 L540.8,201.5 Z" fill="#000"/>
<line x1="443" y1="78.7" x2="456.5" y2="78.7" stroke="#000" stroke-width="3.0" stroke-linecap="round"/>
<line x1="465.5" y1="78.7" x2="479" y2="78.7" stroke="#000" stroke-width="3.0" stroke-linecap="round"/>
<rect x="458.20" y="75.80" width="5.8" height="5.8" fill="#fff" stroke="#000" stroke-width="0.8"/><rect x="461.10" y="75.30" width="3.40" height="6.8" fill="#000"/>
<text transform="translate(483.3,83.8) scale(0.982,1)" font-family="Liberation Sans, sans-serif" font-weight="bold" font-size="15.2">BiVO<tspan font-size="10.5" dy="4">4</tspan></text>
<line x1="443" y1="105.9" x2="456.5" y2="105.9" stroke="#1010f0" stroke-width="3.0" stroke-linecap="round"/>
<line x1="465.5" y1="105.9" x2="479" y2="105.9" stroke="#1010f0" stroke-width="3.0" stroke-linecap="round"/>
<path d="M461.10,101.16 L465.50,108.56 L456.70,108.56 Z" fill="#fff" stroke="#1010f0" stroke-width="0.9" stroke-linejoin="miter"/><path d="M461.10,101.16 L465.50,108.56 L461.10,108.56 Z" fill="#1010f0"/>
<text transform="translate(483.3,110.5) scale(0.982,1)" font-family="Liberation Sans, sans-serif" font-weight="bold" font-size="15.2">(AACVD+ET)-CoPi/BiVO<tspan font-size="10.5" dy="4">4</tspan></text>
<line x1="443" y1="133.1" x2="456.5" y2="133.1" stroke="#ef3636" stroke-width="3.0" stroke-linecap="round"/>
<line x1="465.5" y1="133.1" x2="479" y2="133.1" stroke="#ef3636" stroke-width="3.0" stroke-linecap="round"/>
<circle cx="461.10" cy="133.10" r="3.30" fill="#fff" stroke="#ef3636" stroke-width="0.9"/><path d="M461.10,129.30 A3.8,3.8 0 0 1 461.10,136.90 Z" fill="#ef3636"/>
<text transform="translate(483.3,138.2) scale(0.982,1)" font-family="Liberation Sans, sans-serif" font-weight="bold" font-size="15.2">(PED)-CoPi/BiVO<tspan font-size="10.5" dy="4">4</tspan></text></svg>
</body></html>
